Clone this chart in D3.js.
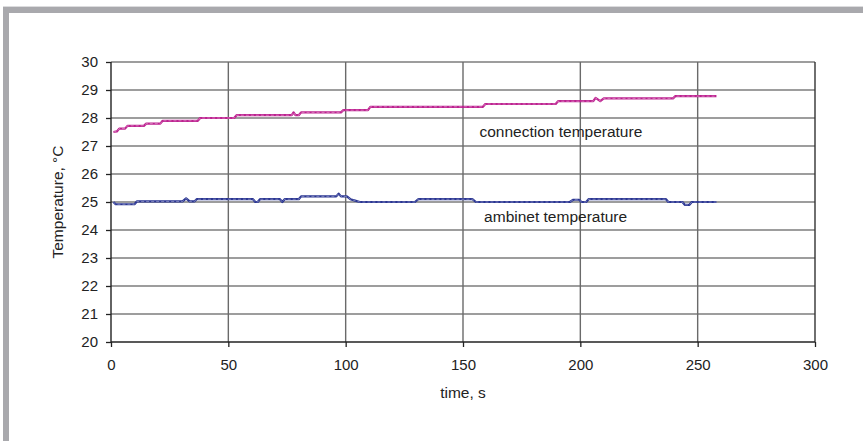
<!DOCTYPE html>
<html>
<head>
<meta charset="utf-8">
<script src="https://cdn.jsdelivr.net/npm/d3@7"></script>
<style>
  html, body { margin: 0; padding: 0; background: #fff; }
  svg { display: block; }
  text { font-family: "Liberation Sans", Arial, sans-serif; fill: #222; }
</style>
</head>
<body>
<svg id="chart" width="863" height="441"></svg>
<script>
// ---- data ----
const xTicks = [0, 50, 100, 150, 200, 250, 300];
const yTicks = [20, 21, 22, 23, 24, 25, 26, 27, 28, 29, 30];

const connTime = [1, 2.5, 3.5, 6, 7, 14, 15, 21, 22, 37, 38, 52.5, 53.5, 77, 77.8, 78.6, 80, 81, 98, 99,
                  109.5, 110.5, 158.5, 159.5, 189.5, 190.5, 205.5, 206.5, 208.5, 210, 239.5, 240.5, 258];
const connTemp = [27.5, 27.52, 27.62, 27.62, 27.72, 27.72, 27.8, 27.8, 27.9, 27.9, 28.0, 28.0, 28.1, 28.1, 28.2, 28.1, 28.1, 28.2, 28.2, 28.28,
                  28.28, 28.4, 28.4, 28.5, 28.5, 28.6, 28.6, 28.72, 28.6, 28.7, 28.7, 28.78, 28.78];

const ambTime = [1, 2, 10, 11, 30.5, 32, 33.5, 35.5, 36.5, 60.5, 61.5, 62.5, 63.5, 72, 73, 74, 80, 81, 96, 97, 98,
                 100.5, 102, 104, 106, 129.5, 131, 154, 155.5, 195.5, 197, 199.5, 200.5, 202.5, 203.5,
                 236.5, 237.5, 243.5, 244.5, 246.5, 247.5, 258];
const ambTemp = [25.0, 24.92, 24.92, 25.02, 25.02, 25.13, 25.02, 25.02, 25.1, 25.1, 25.0, 25.0, 25.1, 25.1, 25.0, 25.1, 25.1, 25.2, 25.2, 25.3, 25.2,
                 25.2, 25.1, 25.05, 25.0, 25.0, 25.1, 25.1, 25.0, 25.0, 25.08, 25.08, 25.0, 25.0, 25.1,
                 25.1, 25.0, 25.0, 24.9, 24.9, 25.0, 25.0];

const seriesNames = ["connection temperature", "ambinet temperature"];
const xTitle = "time, s";
const yTitle = "Temperature, °C";

// ---- layout ----
const svg = d3.select("#chart");
const W = 863, H = 441;
const plot = { left: 111, right: 815, top: 62, bottom: 342 };

svg.append("rect").attr("width", W).attr("height", H).attr("fill", "#fff");
// frame
svg.append("rect").attr("x", 3).attr("y", 6).attr("width", W - 3).attr("height", 1).attr("fill", "#dcdcde");
svg.append("rect").attr("x", 3).attr("y", 7).attr("width", W - 3).attr("height", 6).attr("fill", "#a9a9ad");
svg.append("rect").attr("x", 3).attr("y", 7).attr("width", 6).attr("height", H - 7).attr("fill", "#a9a9ad");

const x = d3.scaleLinear().domain([0, 300]).range([plot.left, plot.right]);
const y = d3.scaleLinear().domain([20, 30]).range([plot.bottom, plot.top]);

// grid
const g = svg.append("g");
g.selectAll("line.hg").data(yTicks.filter(v => v > 20)).enter().append("line")
  .attr("x1", plot.left).attr("x2", plot.right)
  .attr("y1", d => y(d)).attr("y2", d => y(d))
  .attr("stroke", "#7c7c7c").attr("stroke-width", 1.4);
g.selectAll("line.vg").data(xTicks.filter(v => v > 0)).enter().append("line")
  .attr("x1", d => x(d)).attr("x2", d => x(d))
  .attr("y1", plot.top).attr("y2", plot.bottom)
  .attr("stroke", d => d === 300 ? "#333" : "#6a6a6a").attr("stroke-width", 1.4);

// axes
const yAxis = d3.axisLeft(y).tickValues(yTicks).tickSize(5).tickPadding(8).tickFormat(d3.format("d"));
const xAxis = d3.axisBottom(x).tickValues(xTicks).tickSize(5).tickPadding(12).tickFormat(d3.format("d"));

const ya = svg.append("g").attr("transform", `translate(${plot.left},0)`).call(yAxis);
const xa = svg.append("g").attr("transform", `translate(0,${plot.bottom})`).call(xAxis);
[ya, xa].forEach(a => {
  a.select(".domain").attr("stroke", "#222").attr("stroke-width", 1.4);
  a.selectAll(".tick line").attr("stroke", "#222").attr("stroke-width", 1.3);
  a.selectAll(".tick text").attr("font-size", 15).attr("fill", "#222")
    .attr("font-family", "'Liberation Sans', Arial, sans-serif");
});
xa.select(".domain").attr("d", `M${plot.left},0H${plot.right}`);
ya.select(".domain").attr("d", `M0,${plot.bottom}V${plot.top}`);

// lines
const line = d3.line().x(d => x(d[0])).y(d => y(d[1]));
const conn = connTime.map((t, i) => [t, connTemp[i]]);
const amb = ambTime.map((t, i) => [t, ambTemp[i]]);

function drawSeries(data, color) {
  svg.append("path").datum(data).attr("d", line)
    .attr("fill", "none").attr("stroke", color).attr("stroke-width", 2.2)
    .attr("stroke-linejoin", "round");
  svg.append("path").datum(data).attr("d", line)
    .attr("fill", "none").attr("stroke", "rgba(255,255,255,0.55)").attr("stroke-width", 0.7)
    .attr("stroke-dasharray", "3,2");
}
drawSeries(conn, "#bd2290");
drawSeries(amb, "#2a3592");

// series labels
svg.append("text").attr("x", x(157)).attr("y", y(27.33)).attr("font-size", 15.5).text(seriesNames[0]);
svg.append("text").attr("x", x(159)).attr("y", y(24.3)).attr("font-size", 15.5).text(seriesNames[1]);

// axis titles
svg.append("text").attr("x", x(150)).attr("y", 398).attr("text-anchor", "middle")
  .attr("font-size", 15.5).text(xTitle);
svg.append("text").attr("transform", `translate(63,${(plot.top + plot.bottom) / 2}) rotate(-90)`)
  .attr("text-anchor", "middle").attr("font-size", 15.5).text(yTitle);
</script>
</body>
</html>
